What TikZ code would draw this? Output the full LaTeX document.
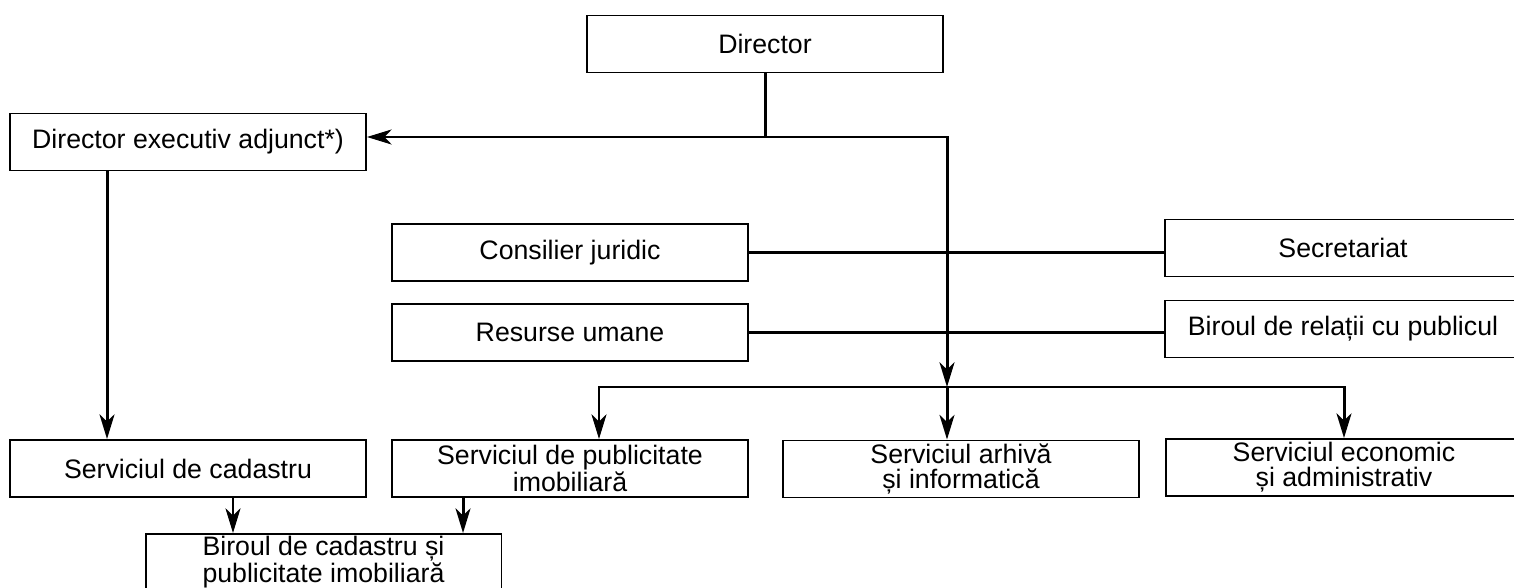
\documentclass[tikz,border=0pt]{standalone}
\usepackage{fontspec}
\setmainfont{Liberation Sans}
\usetikzlibrary{arrows.meta}
\tikzset{
  unit/.style={draw, line width=1.1pt, minimum width=7.12cm, minimum height=1.14cm,
    inner sep=0pt, align=center, font=\fontsize{15.2}{14.2}\selectfont},
  link/.style={line width=1.7pt},
  arr/.style={link, -{Stealth[length=14pt,width=8.5pt,inset=4pt]}}
}
\begin{document}
\begin{tikzpicture}[x=0.02cm, y=-0.02cm]
    \useasboundingbox (0,0) rectangle (1514,588);

    % Conducere
    \node[unit] (director) at (765,44) {Director};
    \node[unit] (adjunct) at (188,142) {Director executiv adjunct*)};

    % Compartimente functionale
    \node[unit] (consilier) at (570,252.5) {Consilier juridic};
    \node[unit] (resurse) at (570,332.5) {Resurse umane};
    \node[unit] (secretariat) at (1343,248) {Secretariat};
    \node[unit] (relatii) at (1343,329) {Biroul de relații cu publicul};

    % Servicii
    \node[unit] (cadastru) at (188,468.5) {Serviciul de cadastru};
    \node[unit] (publicitate) at (570,468.5) {Serviciul de publicitate\\imobiliară};
    \node[unit] (arhiva) at (961,469) {Serviciul arhivă\\și informatică};
    \node[unit] (economic) at (1344,467.5) {Serviciul economic\\și administrativ};
    \node[unit] (birou) at (323.5,562.5) {Biroul de cadastru și\\publicitate imobiliară};

    % Legaturi
    \coordinate (hub) at (765,137);
    \coordinate (spine) at (947,387);
    \draw[link] (director.south) -- (hub);
    \draw[arr] (hub) -- (adjunct.east |- hub);
    \draw[arr] (hub) -| (spine);
    \draw[arr] (spine) -- (arhiva.north -| spine);
    \draw[arr] (spine) -| ([xshift=0.58cm]publicitate.north);
    \draw[arr] (spine) -| (economic.north);

    \draw[link] (consilier.east) -- (secretariat.west |- consilier.east);
    \draw[link] (resurse.east) -- (relatii.west |- resurse.east);

    \draw[arr] ([xshift=-1.62cm]adjunct.south) -- ([xshift=-1.62cm]cadastru.north);
    \draw[arr] ([xshift=0.9cm]cadastru.south) -- ([xshift=0.9cm]cadastru.south |- birou.north);
    \draw[arr] ([xshift=-2.14cm]publicitate.south) -- ([xshift=-2.14cm]publicitate.south |- birou.north);
\end{tikzpicture}
\end{document}
